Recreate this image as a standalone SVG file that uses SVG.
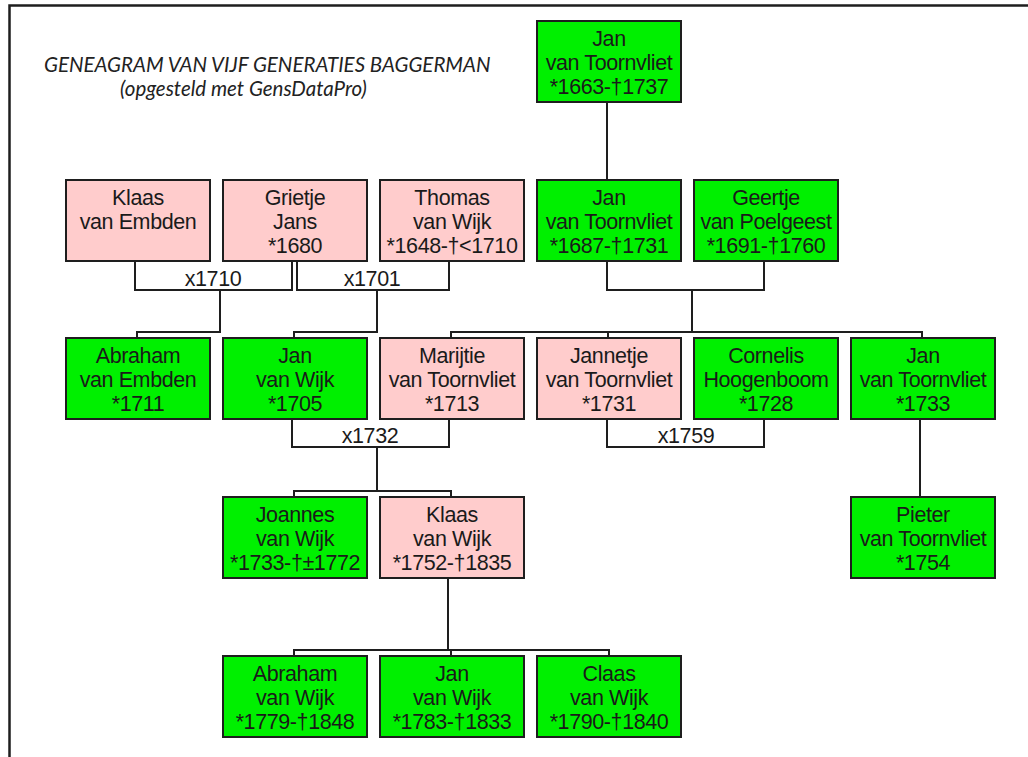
<svg xmlns="http://www.w3.org/2000/svg" width="1028" height="757" viewBox="0 0 1028 757">
<style>
.frame{fill:none;stroke:#1e1e1e;stroke-width:2.5}
.box rect{stroke:#1e1e1e;stroke-width:2}
.m rect{fill:#00f000}
.f rect{fill:#ffcccc}
.box text,.lbl{font-family:"Liberation Sans",Arial,sans-serif;font-size:21.5px;letter-spacing:-0.4px;fill:#1a1a1a;text-anchor:middle}
.conn path{fill:none;stroke:#1e1e1e;stroke-width:2}
.title{font-family:Lato,"Open Sans",sans-serif;font-style:italic;font-size:20.5px;fill:#222}
</style>
<rect width="1028" height="757" fill="#fff"/>
<path class="frame" d="M9.5 757 V5.5 H1028"/>
<g id="title">
<text class="title" x="44" y="72">GENEAGRAM VAN VIJF GENERATIES BAGGERMAN</text>
<text class="title" x="120" y="96">(opgesteld met GensDataPro)</text>
</g>
<g id="connectors" class="conn">
<path d="M607 102 V180"/>
<path d="M135 261 V290 H292 V261"/>
<path d="M297 261 V290 H449 V261"/>
<path d="M220 290 V332 H137 V338"/>
<path d="M377 290 V332 H294 V338"/>
<path d="M607 261 V290 H764 V261"/>
<path d="M692 290 V332"/>
<path d="M451 338 V332 H922 V338"/>
<path d="M608 332 V338"/>
<path d="M292 419 V447 H449 V419"/>
<path d="M377 447 V491"/>
<path d="M294 497 V491 H451 V497"/>
<path d="M607 419 V447 H764 V419"/>
<path d="M920 419 V497"/>
<path d="M448 578 V650"/>
<path d="M294 656 V650 H609 V656"/>
<path d="M451 650 V656"/>
</g>
<g id="labels">
<text class="lbl" x="213" y="286">x1710</text>
<text class="lbl" x="372" y="286">x1701</text>
<text class="lbl" x="370" y="443">x1732</text>
<text class="lbl" x="686" y="443">x1759</text>
</g>
<g id="n-jan-1663" class="box m"><rect x="537" y="21" width="144" height="81"/><text x="609" y="46">Jan</text><text x="609" y="70">van Toornvliet</text><text x="609" y="94">*1663-†1737</text></g>
<g id="n-klaas-embden" class="box f"><rect x="66" y="180" width="144" height="81"/><text x="138" y="205">Klaas</text><text x="138" y="229">van Embden</text></g>
<g id="n-grietje" class="box f"><rect x="223" y="180" width="144" height="81"/><text x="295" y="205">Grietje</text><text x="295" y="229">Jans</text><text x="295" y="253">*1680</text></g>
<g id="n-thomas" class="box f"><rect x="380" y="180" width="144" height="81"/><text x="452" y="205">Thomas</text><text x="452" y="229">van Wijk</text><text x="452" y="253">*1648-†&lt;1710</text></g>
<g id="n-jan-1687" class="box m"><rect x="537" y="180" width="144" height="81"/><text x="609" y="205">Jan</text><text x="609" y="229">van Toornvliet</text><text x="609" y="253">*1687-†1731</text></g>
<g id="n-geertje" class="box m"><rect x="694" y="180" width="144" height="81"/><text x="766" y="205">Geertje</text><text x="766" y="229">van Poelgeest</text><text x="766" y="253">*1691-†1760</text></g>
<g id="n-abraham-embden" class="box m"><rect x="66" y="338" width="144" height="81"/><text x="138" y="363">Abraham</text><text x="138" y="387">van Embden</text><text x="138" y="411">*1711</text></g>
<g id="n-jan-wijk-1705" class="box m"><rect x="223" y="338" width="144" height="81"/><text x="295" y="363">Jan</text><text x="295" y="387">van Wijk</text><text x="295" y="411">*1705</text></g>
<g id="n-marijtie" class="box f"><rect x="380" y="338" width="144" height="81"/><text x="452" y="363">Marijtie</text><text x="452" y="387">van Toornvliet</text><text x="452" y="411">*1713</text></g>
<g id="n-jannetje" class="box f"><rect x="537" y="338" width="144" height="81"/><text x="609" y="363">Jannetje</text><text x="609" y="387">van Toornvliet</text><text x="609" y="411">*1731</text></g>
<g id="n-cornelis" class="box m"><rect x="694" y="338" width="144" height="81"/><text x="766" y="363">Cornelis</text><text x="766" y="387">Hoogenboom</text><text x="766" y="411">*1728</text></g>
<g id="n-jan-1733" class="box m"><rect x="851" y="338" width="144" height="81"/><text x="923" y="363">Jan</text><text x="923" y="387">van Toornvliet</text><text x="923" y="411">*1733</text></g>
<g id="n-joannes" class="box m"><rect x="223" y="497" width="144" height="81"/><text x="295" y="522">Joannes</text><text x="295" y="546">van Wijk</text><text x="295" y="570">*1733-†±1772</text></g>
<g id="n-klaas-wijk" class="box f"><rect x="380" y="497" width="144" height="81"/><text x="452" y="522">Klaas</text><text x="452" y="546">van Wijk</text><text x="452" y="570">*1752-†1835</text></g>
<g id="n-pieter" class="box m"><rect x="851" y="497" width="144" height="81"/><text x="923" y="522">Pieter</text><text x="923" y="546">van Toornvliet</text><text x="923" y="570">*1754</text></g>
<g id="n-abraham-wijk" class="box m"><rect x="223" y="656" width="144" height="81"/><text x="295" y="681">Abraham</text><text x="295" y="705">van Wijk</text><text x="295" y="729">*1779-†1848</text></g>
<g id="n-jan-wijk-1783" class="box m"><rect x="380" y="656" width="144" height="81"/><text x="452" y="681">Jan</text><text x="452" y="705">van Wijk</text><text x="452" y="729">*1783-†1833</text></g>
<g id="n-claas" class="box m"><rect x="537" y="656" width="144" height="81"/><text x="609" y="681">Claas</text><text x="609" y="705">van Wijk</text><text x="609" y="729">*1790-†1840</text></g>
</svg>
